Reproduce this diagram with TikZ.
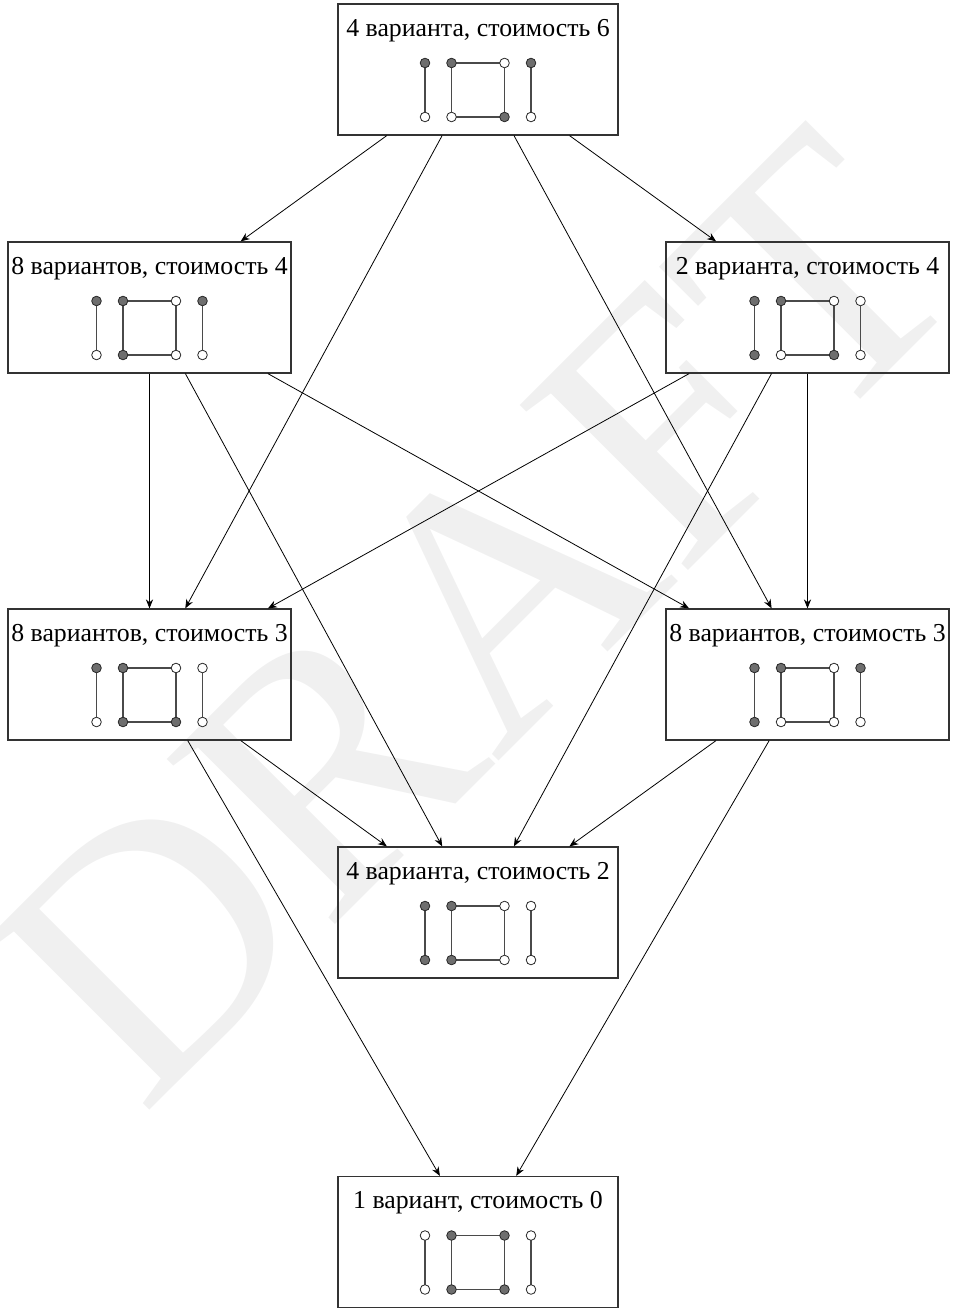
\documentclass[tikz,border=0pt]{standalone}
\usepackage{fontspec}
\setmainfont{Liberation Serif}
\usetikzlibrary{calc,arrows.meta}

\definecolor{Plein}{HTML}{6E6E6E}
\definecolor{Trait}{HTML}{4A4A4A}
\definecolor{Filigrane}{HTML}{F0F0F0}

\tikzset{
  etat/.style={draw=black!80, line width=0.6pt, minimum width=140pt, minimum height=65.5pt, inner sep=0pt},
  titre/.style={inner sep=0pt, anchor=base, font=\fontsize{12.9}{15}\selectfont},
  arete/.style={draw=Trait, line width=0.6pt},
  sommet/.style={draw=black!85, line width=0.4pt},
  fleche/.style={-{Stealth[length=4.5pt,width=3.6pt]}, line width=0.4pt},
}

% motif du graphe : #1 boite, #2..#5 rang du haut, #6..#9 rang du bas
\newcommand{\motif}[9]{%
  \begin{scope}[shift={(#1.center)}]
    \draw[arete] (-53,-6.5) -- (-53,47.5) ;
    \draw[arete] (-26.5,-6.5) rectangle (26.5,47.5) ;
    \draw[arete] (53,-6.5) -- (53,47.5) ;
    \filldraw[sommet, fill=#2] (-53,-6.5) circle[radius=2.4pt] ;
    \filldraw[sommet, fill=#3] (-26.5,-6.5) circle[radius=2.4pt] ;
    \filldraw[sommet, fill=#4] (26.5,-6.5) circle[radius=2.4pt] ;
    \filldraw[sommet, fill=#5] (53,-6.5) circle[radius=2.4pt] ;
    \filldraw[sommet, fill=#6] (-53,47.5) circle[radius=2.4pt] ;
    \filldraw[sommet, fill=#7] (-26.5,47.5) circle[radius=2.4pt] ;
    \filldraw[sommet, fill=#8] (26.5,47.5) circle[radius=2.4pt] ;
    \filldraw[sommet, fill=#9] (53,47.5) circle[radius=2.4pt] ;
  \end{scope}}

\begin{document}
\begin{tikzpicture}[x=0.5pt, y=-0.5pt]

 \useasboundingbox (0,0) rectangle (959,1315) ;

 %%%%%%%%%% Filigrane %%%%%%%%%%
 \node[rotate=45, text=Filigrane, inner sep=0pt, font=\fontsize{180}{180}\selectfont] (filigrane) at (476,616) {DRAFT} ;

 %%%%%%%%%% Les boites %%%%%%%%%%
 \node[etat] (haut) at (478,69.5) {} ;
 \node[etat, minimum width=141.5pt] (g1) at (149.5,307.5) {} ;
 \node[etat, minimum width=141.5pt] (d1) at (807.5,307.5) {} ;
 \node[etat, minimum width=141.5pt] (g2) at (149.5,674.5) {} ;
 \node[etat, minimum width=141.5pt] (d2) at (807.5,674.5) {} ;
 \node[etat] (milieu) at (478,912.5) {} ;
 \node[etat] (bas) at (478,1242) {} ;

 %%%%%%%%%% Les titres %%%%%%%%%%
 \node[titre] (haut-t) at ($(haut.north)+(0,33)$) {4 варианта, стоимость 6} ;
 \node[titre] (g1-t) at ($(g1.north)+(0,33)$) {8 вариантов, стоимость 4} ;
 \node[titre] (d1-t) at ($(d1.north)+(0,33)$) {2 варианта, стоимость 4} ;
 \node[titre] (g2-t) at ($(g2.north)+(0,33)$) {8 вариантов, стоимость 3} ;
 \node[titre] (d2-t) at ($(d2.north)+(0,33)$) {8 вариантов, стоимость 3} ;
 \node[titre] (milieu-t) at ($(milieu.north)+(0,33)$) {4 варианта, стоимость 2} ;
 \node[titre] (bas-t) at ($(bas.north)+(0,33)$) {1 вариант, стоимость 0} ;

 %%%%%%%%%% Les graphes %%%%%%%%%%
 \motif{haut}{Plein}{Plein}{white}{Plein}{white}{white}{Plein}{white}
 \motif{g1}{Plein}{Plein}{white}{Plein}{white}{Plein}{white}{white}
 \motif{d1}{Plein}{Plein}{white}{white}{Plein}{white}{Plein}{white}
 \motif{g2}{Plein}{Plein}{white}{white}{white}{Plein}{Plein}{white}
 \motif{d2}{Plein}{Plein}{white}{Plein}{Plein}{white}{white}{white}
 \motif{milieu}{Plein}{Plein}{white}{white}{Plein}{Plein}{white}{white}
 \motif{bas}{white}{Plein}{Plein}{white}{white}{Plein}{Plein}{white}

 %%%%%%%%%% Les fleches %%%%%%%%%%
 \draw[fleche] (haut) -- (g1) ;
 \draw[fleche] (haut) -- (d1) ;
 \draw[fleche] (haut) -- (g2) ;
 \draw[fleche] (haut) -- (d2) ;

 \draw[fleche] (g1) -- (g2) ;
 \draw[fleche] (g1) -- (d2) ;
 \draw[fleche] (g1) -- (milieu) ;
 \draw[fleche] (d1) -- (g2) ;
 \draw[fleche] (d1) -- (d2) ;
 \draw[fleche] (d1) -- (milieu) ;

 \draw[fleche] (g2) -- (milieu) ;
 \draw[fleche] (d2) -- (milieu) ;
 \draw[fleche] (g2) -- (bas) ;
 \draw[fleche] (d2) -- (bas) ;

\end{tikzpicture}
\end{document}
